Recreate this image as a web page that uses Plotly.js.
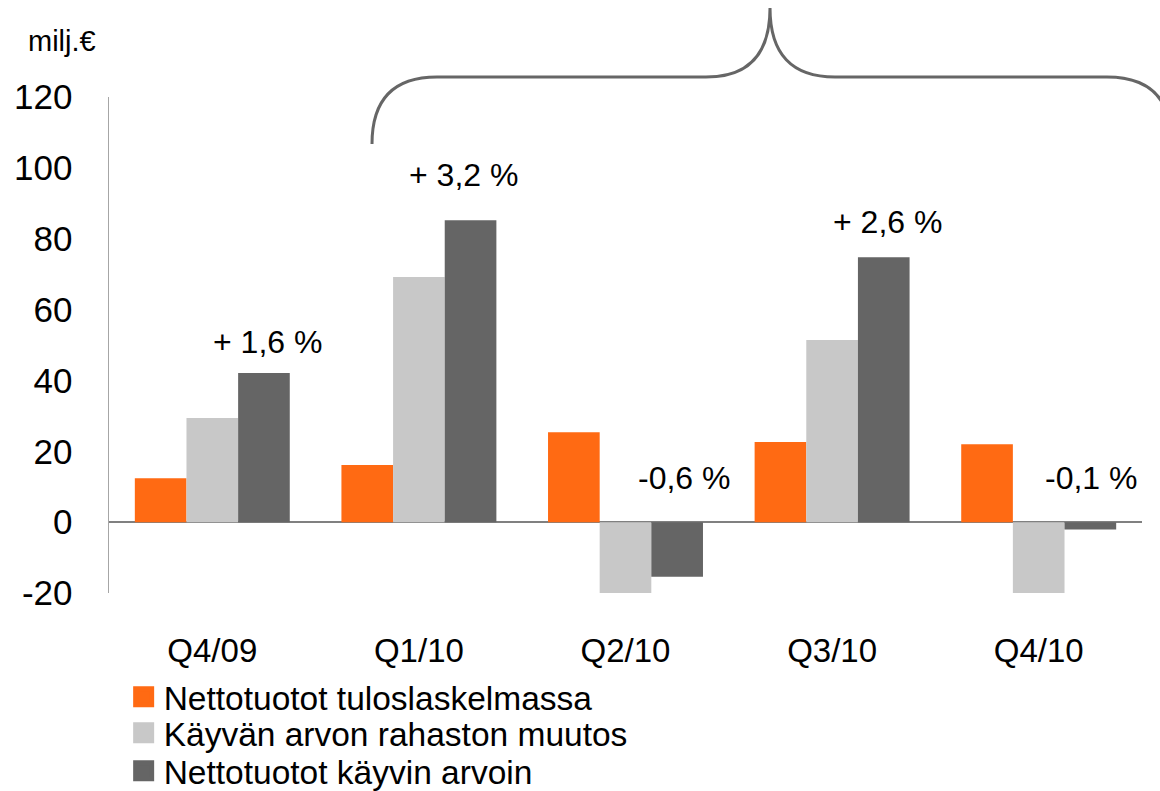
<!DOCTYPE html>
<html>
<head>
<meta charset="utf-8">
<script src="https://cdn.plot.ly/plotly-3.0.1.min.js"></script>
<style>
  html, body { margin: 0; padding: 0; background: #ffffff; }
  #chart { width: 1160px; height: 791px; }
</style>
</head>
<body>
<div id="chart"></div>
<script>
// ---- data ----
const categories = ['Q4/09', 'Q1/10', 'Q2/10', 'Q3/10', 'Q4/10'];
const seriesNames = ['Nettotuotot tuloslaskelmassa', 'Käyvän arvon rahaston muutos', 'Nettotuotot käyvin arvoin'];
const nettoTulos = [12.4, 16.1, 25.4, 22.6, 22.0];
const kayvanMuutos = [29.4, 69.2, -21.1, 51.4, -21.1];
const nettoKayvin = [42.1, 85.2, -15.4, 74.8, -2.1];
const pctLabels = ['+ 1,6 %', '+ 3,2 %', '-0,6 %', '+ 2,6 %', '-0,1 %'];
const yTickVals = [-20, 0, 20, 40, 60, 80, 100, 120];

// ---- styles ----
const colors = ['#FF6A13', '#C8C8C8', '#656565'];
const FONT = 'Liberation Sans, Arial, sans-serif';
const labelXShift = [55, 45, 58, 55, 52];
const labelYShift = [31, 45, 44, 35, 44];
const legendIds = ['legend', 'legend2', 'legend3'];
const legendRowY = [0.1188, 0.0733, 0.0253];

const seriesValues = [nettoTulos, kayvanMuutos, nettoKayvin];

const traces = seriesValues.map((vals, i) => ({
  type: 'bar',
  name: seriesNames[i],
  x: categories,
  y: vals,
  cliponaxis: false,
  marker: { color: colors[i], line: { width: 0 } },
  showlegend: false,
  hoverinfo: 'x+y+name'
}));

// legend entries (larger square swatches), one legend row each
seriesNames.forEach((nm, i) => {
  traces.push({
    type: 'scatter',
    mode: 'markers',
    name: nm,
    x: [null],
    y: [null],
    legend: legendIds[i],
    marker: { symbol: 'square', size: 16, color: colors[i], line: { color: colors[i], width: 5 } },
    showlegend: true,
    hoverinfo: 'skip'
  });
});

const annotations = pctLabels.map((t, i) => ({
  x: categories[i],
  y: Math.max(nettoKayvin[i], 0),
  xref: 'x', yref: 'y',
  text: t,
  showarrow: false,
  xanchor: 'center', yanchor: 'middle',
  xshift: labelXShift[i],
  yshift: labelYShift[i],
  font: { family: FONT, size: 32, color: '#000000' }
}));

annotations.push({
  xref: 'paper', yref: 'paper',
  x: -0.0455, y: 1.113,
  xanchor: 'center', yanchor: 'middle',
  text: 'milj.€',
  showarrow: false,
  font: { family: FONT, size: 29, color: '#000000' }
});

// brace path in paper coordinates
function px(x) { return ((x - 109) / 1033).toFixed(4); }
function py(y) { return ((593 - y) / 496).toFixed(4); }
const bracePath =
  'M' + px(372) + ',' + py(144) +
  ' Q' + px(372) + ',' + py(77) + ' ' + px(437) + ',' + py(77) +
  ' L' + px(706) + ',' + py(77) +
  ' Q' + px(770) + ',' + py(77) + ' ' + px(770) + ',' + py(8) +
  ' Q' + px(770) + ',' + py(77) + ' ' + px(835) + ',' + py(77) +
  ' L' + px(1107) + ',' + py(77) +
  ' Q' + px(1172) + ',' + py(77) + ' ' + px(1172) + ',' + py(144);

const layout = {
  width: 1160,
  height: 791,
  margin: { l: 109, r: 18, t: 97, b: 198, autoexpand: false },
  paper_bgcolor: '#ffffff',
  plot_bgcolor: '#ffffff',
  font: { family: FONT, color: '#000000' },
  barmode: 'group',
  bargap: 0.25,
  bargroupgap: 0,
  showlegend: true,
  xaxis: {
    type: 'category',
    automargin: false,
    showline: false,
    showgrid: false,
    zeroline: false,
    ticks: '',
    tickfont: { family: FONT, size: 33, color: '#000000' },
    ticklabelstandoff: 35
  },
  yaxis: {
    automargin: false,
    range: [-20, 120],
    tickmode: 'array',
    tickvals: yTickVals,
    ticktext: yTickVals.map(String),
    showline: true,
    linecolor: '#A6A6A6',
    linewidth: 1.5,
    showgrid: false,
    zeroline: true,
    zerolinecolor: '#808080',
    zerolinewidth: 1.5,
    ticks: '',
    tickfont: { family: FONT, size: 35, color: '#000000' },
    ticklabelstandoff: 28
  },
  annotations: annotations,
  shapes: [{
    type: 'path',
    xref: 'paper', yref: 'paper',
    path: bracePath,
    line: { color: '#666666', width: 3 },
    fillcolor: 'rgba(0,0,0,0)'
  }]
};

legendIds.forEach((id, i) => {
  layout[id] = {
    xref: 'container', yref: 'container',
    x: 0.1066, y: legendRowY[i],
    xanchor: 'left', yanchor: 'middle',
    orientation: 'v',
    font: { family: FONT, size: 33.5, color: '#000000' },
    bgcolor: 'rgba(0,0,0,0)',
    itemwidth: 30
  };
});

Plotly.newPlot('chart', traces, layout, { displayModeBar: false, staticPlot: true });
</script>
</body>
</html>
